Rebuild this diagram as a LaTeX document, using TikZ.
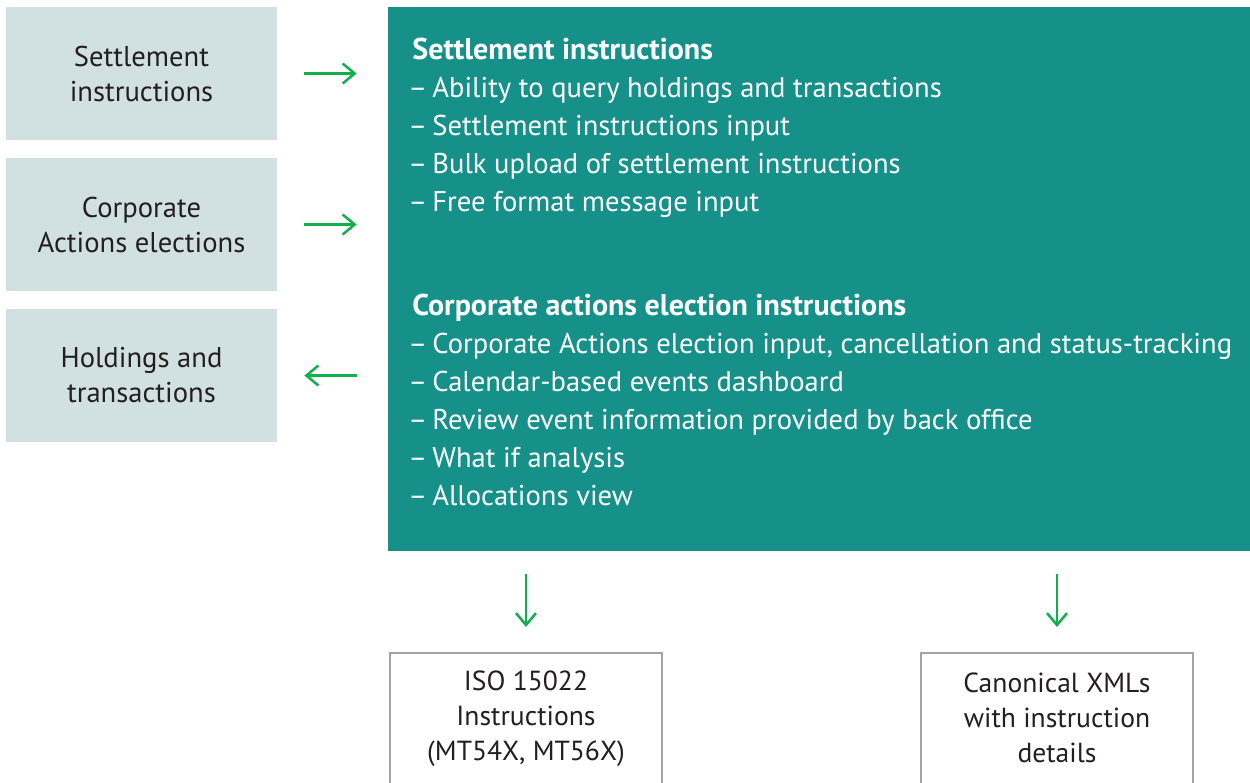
\documentclass[tikz,border=0pt]{standalone}
\usepackage{fontspec}
\setmainfont{PT Sans}
\usetikzlibrary{positioning,arrows.meta}
\definecolor{panelteal}{HTML}{15918A}
\definecolor{srcgrey}{HTML}{D1E0E0}
\definecolor{flowgreen}{HTML}{12B04C}
\definecolor{inkgrey}{HTML}{231F20}
\definecolor{edgegrey}{HTML}{A3A3A3}
\newcommand\listhead[1]{{\fontsize{15}{19}\selectfont\bfseries #1}}
\newcommand\listdash{\makebox[10pt][l]{\hspace{-2pt}–}}
\tikzset{
  srcbox/.style={fill=srcgrey, text=inkgrey, align=center,
    minimum width=135.5pt, minimum height=66.5pt, inner sep=0pt,
    font=\fontsize{14.3}{17.5}\selectfont},
  outbox/.style={draw=edgegrey, line width=1pt,
    minimum width=136pt, minimum height=80pt, inner sep=0pt},
  outtext/.style={text=inkgrey, align=center,
    font=\fontsize{13.8}{17.5}\selectfont},
  listtext/.style={text=white, align=left, inner sep=0pt,
    font=\fontsize{14.3}{19}\selectfont},
  flowarrow/.style={flowgreen, line width=1.25pt,
    -{Straight Barb[length=6pt,width=10pt]}}
}

\begin{document}
\begin{tikzpicture}[x=0.5pt,y=-0.5pt]
  \useasboundingbox (0,0) rectangle (1250,783);
  % source boxes
  \node [srcbox] at (141.5,73.5) (settle) {Settlement\\instructions};
  \node [srcbox] at (141.5,224.5) (corpact) {Corporate\\Actions elections};
  \node [srcbox] at (141.5,375.5) (holdings) {Holdings and\\transactions};
  % main panel
  \node [fill=panelteal, minimum width=431pt, minimum height=272pt,
    inner sep=0pt] at (819,279) (panel) {};
  \node [listtext, anchor=north west] at (412,38) (settlelist)
    {\listhead{Settlement instructions}\\
     \listdash Ability to query holdings and transactions\\
     \listdash Settlement instructions input\\
     \listdash Bulk upload of settlement instructions\\
     \listdash Free format message input};
  \node [listtext, anchor=north west] at (412,294) (calist)
    {\listhead{Corporate actions election instructions}\\
     \listdash Corporate Actions election input, cancellation and status-tracking\\
     \listdash Calendar-based events dashboard\\
     \listdash Review event information provided by back office\\
     \listdash What if analysis\\
     \listdash Allocations view};
  % outputs
  \node [outbox, anchor=north] at (526,652) (isoout) {};
  \node [outbox, anchor=north] at (1057,652) (xmlout) {};
  \node [outtext] at (526,719) (isotext) {ISO 15022\\Instructions\\(MT54X, MT56X)};
  \node [outtext] at (1057,718) (xmltext) {Canonical XMLs\\with instruction\\details};
  % arrows
  \draw [flowarrow, shorten <=13.5pt, shorten >=15.5pt]
    (settle.east) -- (settle.east -| panel.west);
  \draw [flowarrow, shorten <=13.5pt, shorten >=15.5pt]
    (corpact.east) -- (corpact.east -| panel.west);
  \draw [flowarrow, shorten <=15.5pt, shorten >=13.5pt]
    (holdings.east -| panel.west) -- (holdings.east);
  \draw [flowarrow, shorten <=11.5pt, shorten >=12.5pt]
    (panel.south -| isoout.north) -- (isoout.north);
  \draw [flowarrow, shorten <=11.5pt, shorten >=12.5pt]
    (panel.south -| xmlout.north) -- (xmlout.north);
\end{tikzpicture}
\end{document}
